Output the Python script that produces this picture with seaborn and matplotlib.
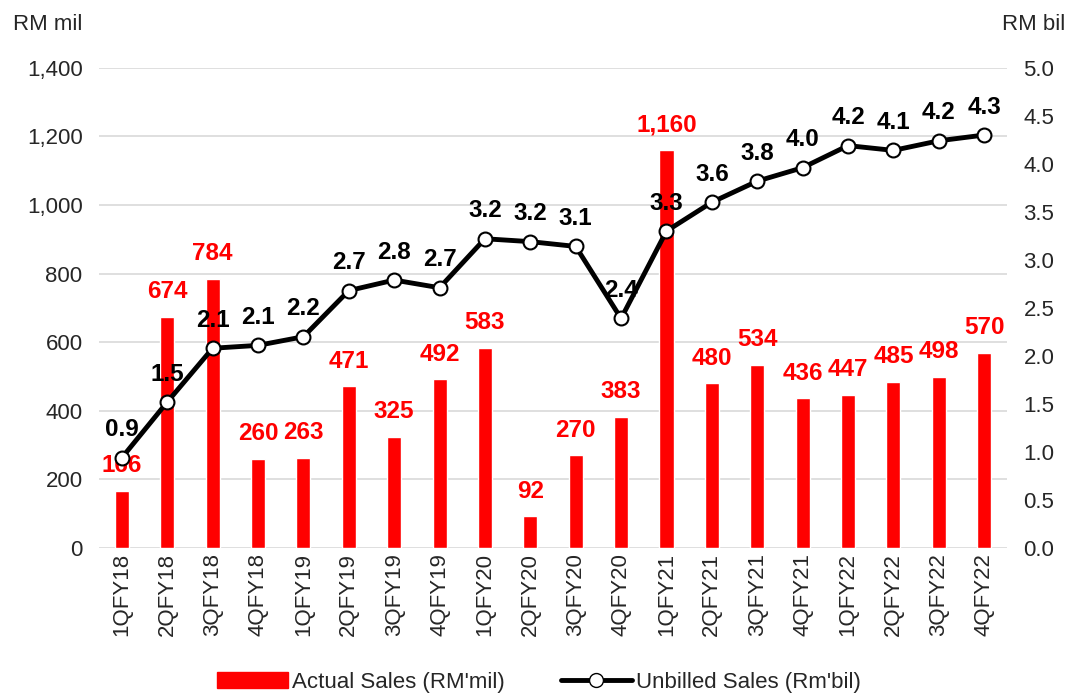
import numpy as np
import pandas as pd
import matplotlib
matplotlib.use("Agg")
import matplotlib.pyplot as plt
import seaborn as sns
from matplotlib.patches import Patch
from matplotlib.lines import Line2D

# Quarterly data
quarters = ["1QFY18", "2QFY18", "3QFY18", "4QFY18", "1QFY19", "2QFY19", "3QFY19",
            "4QFY19", "1QFY20", "2QFY20", "3QFY20", "4QFY20", "1QFY21", "2QFY21",
            "3QFY21", "4QFY21", "1QFY22", "2QFY22", "3QFY22", "4QFY22"]
actual_sales = [166, 674, 784, 260, 263, 471, 325, 492, 583, 92, 270, 383,
                1160, 480, 534, 436, 447, 485, 498, 570]
unbilled_sales = [0.94, 1.52, 2.08, 2.11, 2.2, 2.68, 2.79, 2.71, 3.22, 3.19, 3.14, 2.39,
                  3.3, 3.6, 3.82, 3.96, 4.19, 4.14, 4.24, 4.3]

df = pd.DataFrame({"Quarter": quarters, "Actual": actual_sales, "Unbilled": unbilled_sales})

sns.set_theme(style="white")
plt.rcParams["font.family"] = ["Liberation Sans", "DejaVu Sans"]

fig, ax = plt.subplots(figsize=(10.78, 6.99), dpi=100)
fig.subplots_adjust(left=0.092, right=0.934, top=0.903, bottom=0.216)

sns.barplot(data=df, x="Quarter", y="Actual", color="#FF0000", width=0.31,
            saturation=1, ax=ax, zorder=2)
ax.set_ylim(0, 1400)
ax.set_yticks(np.arange(0, 1401, 200))
ax.set_yticklabels([f"{v:,}" for v in range(0, 1401, 200)], fontsize=16)
ax.yaxis.grid(True, color="#D9D9D9", linewidth=1.2, zorder=0)
ax.set_axisbelow(True)
ax.set_xlabel("")
ax.set_ylabel("")
ax.tick_params(axis="x", labelrotation=90, labelsize=16, length=0)
ax.tick_params(axis="y", length=0, pad=12)
for s in ax.spines.values():
    s.set_visible(False)

for i, v in enumerate(actual_sales):
    ax.text(i, v + 40, f"{v:,}", ha="center", va="bottom", color="#FF0000",
            fontsize=17.5, fontweight="bold")

ax2 = ax.twinx()
x = np.arange(len(quarters))
sns.lineplot(x=x, y=unbilled_sales, ax=ax2, color="black", linewidth=3.5,
             marker="o", markersize=10, markerfacecolor="white",
             markeredgecolor="black", markeredgewidth=1.5, zorder=3)
ax2.set_ylim(0, 5)
ax2.set_yticks(np.arange(0, 5.01, 0.5))
ax2.set_yticklabels([f"{v:.1f}" for v in np.arange(0, 5.01, 0.5)], fontsize=16)
ax2.tick_params(axis="y", length=0, pad=12)
for s in ax2.spines.values():
    s.set_visible(False)
ax2.set_xlim(-0.5, len(quarters) - 0.5)
ax.set_xlim(-0.5, len(quarters) - 0.5)

for i, v in enumerate(unbilled_sales):
    ax2.text(i, v + 0.17, f"{v:.1f}", ha="center", va="bottom", color="black",
             fontsize=17.5, fontweight="bold")

fig.text(0.012, 0.965, "RM mil", fontsize=16, ha="left", va="center")
fig.text(0.988, 0.965, "RM bil", fontsize=16, ha="right", va="center")

handles = [Patch(color="#FF0000", label="Actual Sales (RM'mil)"),
           Line2D([0], [0], color="black", linewidth=3.5, marker="o", markersize=10,
                  markerfacecolor="white", markeredgecolor="black",
                  label="Unbilled Sales (Rm'bil)")]
fig.legend(handles=handles, loc="lower center", ncol=2, frameon=False, fontsize=16,
           bbox_to_anchor=(0.5, -0.02), handlelength=3.2, columnspacing=2.5,
           handletextpad=0.2)

plt.savefig("out.png", dpi=100)
